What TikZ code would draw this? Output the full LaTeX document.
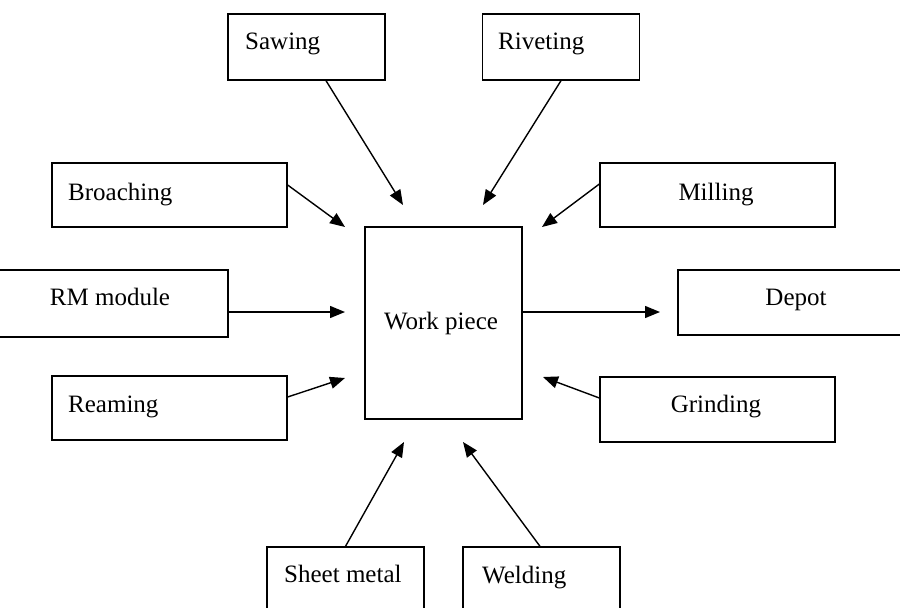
\documentclass[tikz,border=0pt]{standalone}
\usepackage{fontspec}
\setmainfont{Liberation Serif}
\usetikzlibrary{arrows.meta}
\begin{document}
\begin{tikzpicture}[x=1pt,y=-1pt,
  box/.style={draw,line width=1.3pt,inner sep=0pt,minimum width=#1},
  box/.default=235pt,
  lbl/.style={inner sep=0pt,font=\fontsize{25}{30}\selectfont},
  feed/.style={line width=1.4pt,-{Triangle[length=15pt,width=12pt]}}]
\useasboundingbox (0,0) rectangle (900,608);
\clip (0,0) rectangle (900,608);
\fill[white] (0,0) rectangle (900,608);

% central box
\node[box=157pt,minimum height=192pt] (work) at (443.5,323) {};
\node[lbl,anchor=base] (worklbl) at (441,329) {Work piece};

% top row
\node[box=157pt,minimum height=66pt] (sawing) at (306.5,47) {};
\node[lbl,anchor=base west] (sawinglbl) at (245,49) {Sawing};
\node[box=157pt,minimum height=66pt] (riveting) at (561,47) {};
\node[lbl,anchor=base west] (rivetinglbl) at (498,49) {Riveting};

% left column
\node[box,minimum height=64pt] (broaching) at (169.5,195) {};
\node[lbl,anchor=base west] (broachinglbl) at (68,200) {Broaching};
\node[box,minimum height=67pt] (rm) at (110.5,303.5) {};
\node[lbl,anchor=base] (rmlbl) at (110,305) {RM module};
\node[box,minimum height=64pt] (reaming) at (169.5,408) {};
\node[lbl,anchor=base west] (reaminglbl) at (68,412) {Reaming};

% right column
\node[box,minimum height=64pt] (milling) at (717.5,195) {};
\node[lbl,anchor=base] (millinglbl) at (716,200) {Milling};
\node[box,minimum height=65pt] (depot) at (795.5,302.5) {};
\node[lbl,anchor=base] (depotlbl) at (796,305) {Depot};
\node[box,minimum height=65pt] (grinding) at (717.5,409.5) {};
\node[lbl,anchor=base] (grindinglbl) at (716,412) {Grinding};

% bottom row
\node[box=157pt,minimum height=66pt] (sheet) at (345.5,580) {};
\node[lbl,anchor=base west] (sheetlbl) at (284,582) {Sheet metal};
\node[box=157pt,minimum height=66pt] (welding) at (541.5,580) {};
\node[lbl,anchor=base west] (weldinglbl) at (482,583) {Welding};

% arrow tips
\coordinate (tSaw) at (403,205);
\coordinate (tRiv) at (483,205);
\coordinate (tBro) at (345,227);
\coordinate (tMil) at (542,227);
\coordinate (tRM) at (345,312);
\coordinate (tDep) at (660,312);
\coordinate (tRea) at (345,378);
\coordinate (tGri) at (543,377);
\coordinate (tShe) at (404,442);
\coordinate (tWel) at (463,442);

% connectors
\draw[feed] ([xshift=19.5pt]sawing.south) -- (tSaw);
\draw[feed] (riveting.south) -- (tRiv);
\draw[feed] ([yshift=10pt]broaching.east) -- (tBro);
\draw[feed] ([yshift=11pt]milling.west) -- (tMil);
\draw[feed] ([yshift=-8.5pt]rm.east) -- (tRM);
\draw[feed] ([yshift=11pt]work.east) -- (tDep);
\draw[feed] ([yshift=11pt]reaming.east) -- (tRea);
\draw[feed] ([yshift=11.5pt]grinding.west) -- (tGri);
\draw[feed] (sheet.north) -- (tShe);
\draw[feed] ([xshift=-1.5pt]welding.north) -- (tWel);
\end{tikzpicture}
\end{document}
